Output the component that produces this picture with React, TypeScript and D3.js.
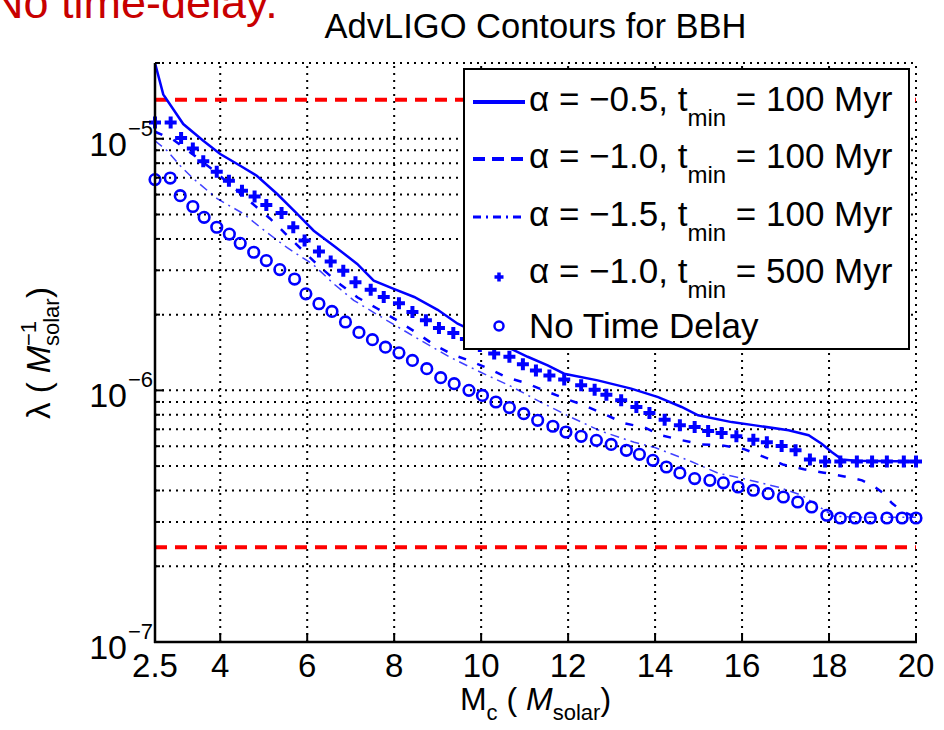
import React from "react";
import * as d3 from "d3";

// ---- data ----
const massSolid = [2.5, 2.69, 3.15, 3.61, 4.0, 4.46, 4.84, 5.31, 5.77, 6.15, 6.61, 7.15, 7.53, 7.99, 8.46, 9.0, 9.46, 11.07, 11.53, 11.91, 12.68, 13.45, 14.07, 14.61, 14.99, 15.76, 16.3, 17.07, 17.53, 17.83, 18.06, 18.3, 18.6, 20.0];
const lambdaSolid = [2.0e-5, 1.5e-5, 1.144e-5, 9.82e-6, 8.7e-6, 7.81e-6, 7.13e-6, 6.03e-6, 5.03e-6, 4.31e-6, 3.76e-6, 3.18e-6, 2.73e-6, 2.53e-6, 2.35e-6, 2.09e-6, 1.84e-6, 1.36e-6, 1.257e-6, 1.165e-6, 1.096e-6, 1.016e-6, 9.4e-7, 8.59e-7, 7.96e-7, 7.48e-7, 7.26e-7, 6.94e-7, 6.63e-7, 6.14e-7, 5.69e-7, 5.31e-7, 5.25e-7, 5.22e-7];

const massDash = [2.5, 2.92, 3.35, 3.77, 4.18, 4.69, 5.15, 5.66, 6.26, 6.77, 7.16, 7.62, 8.06, 8.5, 8.91, 9.33, 9.72, 10.16, 10.59, 11.05, 11.45, 11.91, 12.37, 12.88, 13.29, 13.75, 14.14, 14.63, 15.07, 15.53, 16.06, 16.5, 16.96, 17.42, 17.88, 18.32, 18.76, 19.03, 19.22, 19.45, 19.68, 20.0];
const lambdaDash = [1.066e-5, 9.91e-6, 8.72e-6, 7.67e-6, 6.69e-6, 5.62e-6, 4.81e-6, 3.94e-6, 3.13e-6, 2.63e-6, 2.34e-6, 2.11e-6, 1.9e-6, 1.7e-6, 1.52e-6, 1.39e-6, 1.315e-6, 1.223e-6, 1.126e-6, 1.066e-6, 1.0e-6, 9.3e-7, 8.72e-7, 7.98e-7, 7.4e-7, 7.13e-7, 6.63e-7, 6.33e-7, 6.1e-7, 6.05e-7, 5.83e-7, 5.44e-7, 5.06e-7, 4.86e-7, 4.71e-7, 4.56e-7, 4.39e-7, 4.16e-7, 3.94e-7, 3.56e-7, 3.31e-7, 3.13e-7];

const massDashDot = [2.5, 2.78, 3.08, 3.38, 3.93, 4.53, 4.99, 5.54, 6.14, 6.6, 7.07, 7.57, 8.03, 8.61, 9.3, 9.99, 10.69, 11.38, 12.07, 12.76, 13.52, 13.98, 14.77, 15.46, 15.99, 16.84, 17.37, 17.83, 18.11, 18.76, 20.0];
const lambdaDashDot = [9.82e-6, 8.96e-6, 7.81e-6, 6.94e-6, 5.78e-6, 5.04e-6, 4.35e-6, 3.69e-6, 3.16e-6, 2.66e-6, 2.28e-6, 2.02e-6, 1.81e-6, 1.58e-6, 1.35e-6, 1.18e-6, 1.037e-6, 8.96e-7, 7.81e-7, 6.88e-7, 6.22e-7, 5.94e-7, 5.27e-7, 4.68e-7, 4.48e-7, 4.12e-7, 3.83e-7, 3.4e-7, 3.16e-7, 3.13e-7, 3.13e-7];

const massPlus = [2.5, 2.86, 3.1, 3.37, 3.61, 3.92, 4.2, 4.5, 4.79, 5.06, 5.41, 5.68, 5.94, 6.27, 6.54, 6.83, 7.11, 7.46, 7.76, 8.11, 8.42, 8.73, 9.03, 9.36, 9.65, 9.97, 10.3, 10.65, 10.96, 11.26, 11.57, 11.91, 12.3, 12.61, 12.88, 13.22, 13.57, 13.87, 14.22, 14.57, 14.91, 15.22, 15.53, 15.87, 16.26, 16.57, 16.91, 17.23, 17.56, 17.91, 18.26, 18.64, 18.99, 19.33, 19.72, 20.0];
const lambdaPlus = [1.16e-5, 1.16e-5, 1.006e-5, 9.15e-6, 8.13e-6, 7.4e-6, 6.81e-6, 6.22e-6, 5.9e-6, 5.46e-6, 5.07e-6, 4.45e-6, 3.94e-6, 3.56e-6, 3.25e-6, 2.99e-6, 2.69e-6, 2.51e-6, 2.35e-6, 2.22e-6, 2.05e-6, 1.9e-6, 1.77e-6, 1.69e-6, 1.6e-6, 1.5e-6, 1.4e-6, 1.36e-6, 1.27e-6, 1.2e-6, 1.147e-6, 1.105e-6, 1.047e-6, 1.006e-6, 9.61e-7, 9.13e-7, 8.59e-7, 8.13e-7, 7.65e-7, 7.26e-7, 7.15e-7, 6.89e-7, 6.77e-7, 6.57e-7, 6.37e-7, 6.22e-7, 6.01e-7, 5.78e-7, 5.31e-7, 5.22e-7, 5.22e-7, 5.22e-7, 5.22e-7, 5.22e-7, 5.22e-7, 5.22e-7];

const massCircle = [2.5, 2.85, 3.08, 3.37, 3.63, 3.92, 4.21, 4.46, 4.77, 5.06, 5.37, 5.71, 5.97, 6.27, 6.57, 6.88, 7.19, 7.5, 7.8, 8.11, 8.42, 8.75, 9.07, 9.38, 9.72, 10.03, 10.34, 10.65, 10.98, 11.3, 11.65, 11.95, 12.3, 12.65, 12.99, 13.34, 13.64, 13.95, 14.26, 14.57, 14.91, 15.26, 15.57, 15.91, 16.26, 16.6, 16.95, 17.28, 17.6, 17.95, 18.26, 18.6, 18.95, 19.33, 19.68, 20.0];
const lambdaCircle = [6.88e-6, 6.98e-6, 5.94e-6, 5.38e-6, 4.87e-6, 4.45e-6, 4.18e-6, 3.84e-6, 3.54e-6, 3.28e-6, 3.02e-6, 2.77e-6, 2.42e-6, 2.21e-6, 2.06e-6, 1.87e-6, 1.7e-6, 1.59e-6, 1.485e-6, 1.41e-6, 1.315e-6, 1.22e-6, 1.123e-6, 1.063e-6, 1.0e-6, 9.55e-7, 8.99e-7, 8.54e-7, 8.08e-7, 7.6e-7, 7.2e-7, 6.83e-7, 6.57e-7, 6.33e-7, 6.1e-7, 5.78e-7, 5.57e-7, 5.27e-7, 4.96e-7, 4.7e-7, 4.46e-7, 4.39e-7, 4.29e-7, 4.13e-7, 4.01e-7, 3.89e-7, 3.77e-7, 3.6e-7, 3.44e-7, 3.19e-7, 3.11e-7, 3.11e-7, 3.11e-7, 3.11e-7, 3.11e-7, 3.11e-7];

const redLimits = [1.43e-5, 2.38e-7];

const xTicks = [2.5, 4, 6, 8, 10, 12, 14, 16, 18, 20];
const xTickLabels = ["2.5", "4", "6", "8", "10", "12", "14", "16", "18", "20"];
const yDecades = [1e-7, 1e-6, 1e-5];
const yDecadeExponents = ["\u22127", "\u22126", "\u22125"];
const yMinor = [2e-7, 3e-7, 4e-7, 5e-7, 6e-7, 7e-7, 8e-7, 9e-7, 2e-6, 3e-6, 4e-6, 5e-6, 6e-6, 7e-6, 8e-6, 9e-6, 2e-5];

const legendMain = ["\u03b1 = \u22120.5, t", "\u03b1 = \u22121.0, t", "\u03b1 = \u22121.5, t", "\u03b1 = \u22121.0, t", "No Time Delay"];
const legendSub = ["min", "min", "min", "min", ""];
const legendTail = [" = 100 Myr", " = 100 Myr", " = 100 Myr", " = 500 Myr", ""];

const titleText = "AdvLIGO Contours for BBH";
const noteText = "No time-delay.";

// ---- layout ----
const W = 944;
const H = 730;
const L = 155, R = 916, T = 63, B = 642;
const FONT = "'Liberation Sans', Arial, Helvetica, sans-serif";
const BLUE = "#0000ff";

export default function App() {
  const x = d3.scaleLinear().domain([2.5, 20]).range([L, R]);
  const y = d3.scaleLog().domain([1e-7, 2e-5]).range([B, T]);
  const line = d3
    .line<[number, number]>()
    .x((d) => x(d[0]))
    .y((d) => y(d[1]));
  const zip = (a: number[], b: number[]) => a.map((v, i) => [v, b[i]] as [number, number]);

  const solidPath = line(zip(massSolid, lambdaSolid)) || "";
  const dashPath = line(zip(massDash, lambdaDash)) || "";
  const dashDotPath = line(zip(massDashDot, lambdaDashDot)) || "";
  const plusPts = zip(massPlus, lambdaPlus);
  const circPts = zip(massCircle, lambdaCircle);

  const gridStyle = { stroke: "#000", strokeWidth: 2, strokeDasharray: "2,5", fill: "none" };

  const legendLineY = [102, 159, 217, 277, 326];
  const legendTextY = [111, 168, 226, 283, 338];

  const plusPath = (cx: number, cy: number, s: number) =>
    `M${cx - s},${cy}H${cx + s}M${cx},${cy - s}V${cy + s}`;

  return (
    <svg
      width={W}
      height={H}
      style={{ position: "absolute", left: 0, top: 0, background: "#fff" }}
      fontFamily={FONT}
    >
      <rect x={0} y={0} width={W} height={H} fill="#fff" />
      <defs>
        <clipPath id="plotClip">
          <rect x={L} y={T - 2} width={R - L} height={B - T + 2} />
        </clipPath>
      </defs>

      {/* red note */}
      <text x={-9} y={18} fontSize={45} fill="#c80000">
        {noteText}
      </text>
      {/* title */}
      <text x={(L + R) / 2} y={38} fontSize={34.5} textAnchor="middle" fill="#000">
        {titleText}
      </text>

      {/* grid */}
      {xTicks.slice(1).map((t) => (
        <line key={"gx" + t} x1={x(t)} x2={x(t)} y1={B} y2={T} style={gridStyle} />
      ))}
      {[...yDecades, ...yMinor].map((t) => (
        <line key={"gy" + t} x1={L} x2={R} y1={y(t)} y2={y(t)} style={gridStyle} />
      ))}

      {/* red limits */}
      {redLimits.map((v) => (
        <line
          key={"red" + v}
          x1={L}
          x2={R}
          y1={y(v)}
          y2={y(v)}
          stroke="#ff0000"
          strokeWidth={4}
          strokeDasharray="12,8"
        />
      ))}

      <g clipPath="url(#plotClip)">
        <path d={solidPath} fill="none" stroke={BLUE} strokeWidth={2.5} />
        <path d={dashPath} fill="none" stroke={BLUE} strokeWidth={2.5} strokeDasharray="8,12" />
        <path d={dashDotPath} fill="none" stroke={BLUE} strokeWidth={1.5} strokeDasharray="9,5,2,5" strokeOpacity={0.75} />
      </g>
      {plusPts.map((p, i) => (
        <path key={"p" + i} d={plusPath(x(p[0]), y(p[1]), 6)} stroke={BLUE} strokeWidth={4} fill="none" />
      ))}
      {circPts.map((p, i) => (
        <circle key={"c" + i} cx={x(p[0])} cy={y(p[1])} r={5.3} stroke={BLUE} strokeWidth={2.6} fill="none" />
      ))}

      {/* axes */}
      <line x1={L} x2={L} y1={T} y2={B + 1} stroke="#000" strokeWidth={2.5} />
      <line x1={L - 1} x2={R + 1} y1={B} y2={B} stroke="#000" strokeWidth={2.5} />
      {xTicks.map((t) => (
        <line key={"xt" + t} x1={x(t)} x2={x(t)} y1={B} y2={B - 9} stroke="#000" strokeWidth={2} />
      ))}
      {yDecades.map((t) => (
        <line key={"ytM" + t} x1={L} x2={L + 9} y1={y(t)} y2={y(t)} stroke="#000" strokeWidth={2} />
      ))}
      {yMinor.map((t) => (
        <line key={"ytm" + t} x1={L} x2={L + 5} y1={y(t)} y2={y(t)} stroke="#000" strokeWidth={2} />
      ))}

      {/* tick labels */}
      {xTicks.map((t, i) => (
        <text key={"xl" + t} x={x(t)} y={677} fontSize={33} textAnchor="middle" fill="#000">
          {xTickLabels[i]}
        </text>
      ))}
      {yDecades.map((t, i) => (
        <g key={"yl" + t}>
          <text x={127} y={y(t) + 17} fontSize={34} textAnchor="end" fill="#000">
            10
          </text>
          <text x={128} y={y(t) - 3} fontSize={22} fill="#000">
            {yDecadeExponents[i]}
          </text>
        </g>
      ))}

      {/* axis labels */}
      <text x={(L + R) / 2} y={710} fontSize={32} textAnchor="middle" fill="#000">
        M
        <tspan fontSize={22} dy={10}>c</tspan>
        <tspan dy={-10}> ( </tspan>
        <tspan fontStyle="italic">M</tspan>
        <tspan fontSize={22} dy={10}>solar</tspan>
        <tspan dy={-10}>)</tspan>
      </text>
      <g transform="translate(50,350) rotate(-90)">
        <text x={-69} y={0} fontSize={33} fill="#000">
          {"\u03bb ( "}
          <tspan fontStyle="italic">M</tspan>
        </text>
        <text x={4} y={-14} fontSize={22} fill="#000">
          {"\u22121"}
        </text>
        <text x={4} y={9} fontSize={22} fill="#000">
          solar
        </text>
        <text x={52} y={0} fontSize={33} fill="#000">
          )
        </text>
      </g>

      {/* legend */}
      <rect x={464} y={69} width={445} height={280} fill="#fff" stroke="#000" strokeWidth={2} />
      {legendMain.map((lab, i) => {
        const ly = legendLineY[i];
        let sample: React.ReactNode = null;
        if (i === 0) sample = <line x1={473} x2={525} y1={ly} y2={ly} stroke={BLUE} strokeWidth={4} />;
        if (i === 1) sample = <line x1={473} x2={525} y1={ly} y2={ly} stroke={BLUE} strokeWidth={4} strokeDasharray="12,7" />;
        if (i === 2) sample = <line x1={473} x2={525} y1={ly} y2={ly} stroke={BLUE} strokeWidth={3} strokeDasharray="8,5,2,5" />;
        if (i === 3) sample = <path d={plusPath(499, ly, 4.5)} stroke={BLUE} strokeWidth={3.5} fill="none" />;
        if (i === 4) sample = <circle cx={499} cy={ly} r={4.5} stroke={BLUE} strokeWidth={2.5} fill="none" />;
        return (
          <g key={"lg" + i}>
            {sample}
            <text x={529} y={legendTextY[i]} fontSize={35} fill="#000">
              {lab}
              {legendSub[i] ? (
                <>
                  <tspan fontSize={24} dy={15}>
                    {legendSub[i]}
                  </tspan>
                  <tspan dy={-15}>{legendTail[i]}</tspan>
                </>
              ) : null}
            </text>
          </g>
        );
      })}
    </svg>
  );
}
